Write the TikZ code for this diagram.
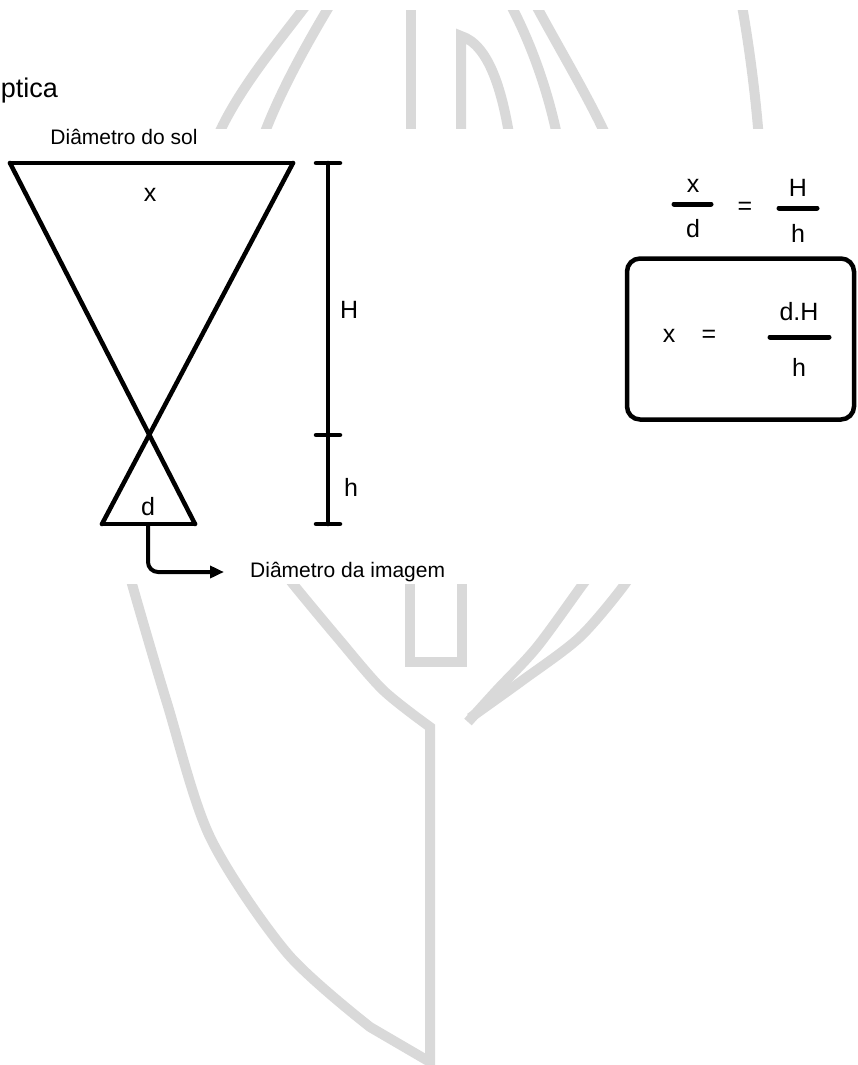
\documentclass[tikz,border=0pt]{standalone}
\usepackage{fontspec}
\setmainfont{Liberation Sans}
\usepackage{tikz}
\usetikzlibrary{positioning, arrows.meta, calc}
\definecolor{wmGray}{RGB}{217,217,217}

\begin{document}
\begin{tikzpicture}[
    x=1pt, y=-1pt,
    label/.style={font=\fontsize{21}{25}\selectfont, inner sep=0pt},
    letter/.style={font=\fontsize{25}{30}\selectfont, inner sep=0pt},
    boldline/.style={line width=4.5pt, line cap=round, line join=round},
    fracbar/.style={line width=5pt, line cap=round},
    watermark/.style={draw=wmGray, line width=10pt},
    arrow/.style={-{Triangle[length=14pt, width=12pt]}, line width=4pt, rounded corners=10pt}
]
\useasboundingbox (0,0) rectangle (858,1065);

% Watermark, upper band
\begin{scope}
\clip (0,11) rectangle (858,128);
\draw[watermark] (310,0) .. controls (282,38) and (238,88) .. (216,140);
\draw[watermark] (333,0) .. controls (312,35) and (280,90) .. (262,140);
\draw[watermark] (411,0) -- (411,140);
\draw[watermark] (461,140) -- (461,36) .. controls (490,45) and (503,95) .. (510,140);
\draw[watermark] (508,0) .. controls (530,40) and (548,90) .. (558,140);
\draw[watermark] (533,0) .. controls (560,50) and (590,100) .. (608,140);
\draw[watermark] (741,0) .. controls (750,50) and (756,100) .. (759,140);
\end{scope}

% Watermark, lower band
\begin{scope}
\clip (0,584) rectangle (858,1065);
\draw[watermark] plot[smooth] coordinates {(128,565) (132,584) (167,703) (210,837) (287,953) (370,1027)} -- (430,1062);
\draw[watermark] plot[smooth] coordinates {(280,566) (293,584) (337,637) (383,690) (430,727)} -- (430,1075);
\draw[watermark] (410,570) -- (410,662) -- (462,662) -- (462,570);
\draw[watermark] plot[smooth] coordinates {(597,566) (583,584) (537,647) (497,690) (468,722)};
\draw[watermark] plot[smooth] coordinates {(632,566) (625,584) (580,637) (523,680) (470,718)};
\end{scope}

% Title
\node[font=\fontsize{27}{32}\selectfont, anchor=base east, inner sep=0pt] (title) at (58,97) {Óptica};

% Sun and image cones
\coordinate (sun_l) at (10,163);
\coordinate (sun_r) at (293,163);
\coordinate (img_l) at (102,524);
\coordinate (img_r) at (195,524);
\draw[boldline] (sun_l) -- (sun_r);
\draw[boldline] (sun_l) -- (img_r);
\draw[boldline] (sun_r) -- (img_l);
\draw[boldline] (img_l) -- (img_r);

\node[label] (sun_lbl) at (124,137) {Diâmetro do sol};
\node[letter] (sun_x) at (150,195) {x};
\node[letter] (img_d) at (148,507) {d};

% Heights
\coordinate (dim_top) at (328,163);
\coordinate (dim_mid) at (328,435);
\coordinate (dim_bot) at (328,524);
\draw[boldline] (dim_top) -- (dim_bot);
\foreach \p in {dim_top, dim_mid, dim_bot}
    \draw[boldline] ([xshift=-12pt]\p) -- ([xshift=12pt]\p);
\node[letter, anchor=west] (dim_H) at (340,310) {H};
\node[letter, anchor=west] (dim_h) at (344,487) {h};

% Image label
\coordinate (img_mid) at (148,526);
\node[label, anchor=west] (img_lbl) at (250,572) {Diâmetro da imagem};
\draw[arrow] (img_mid) |- ([xshift=-26pt]img_lbl.west);

% Proportion
\node[letter] (frac_x) at (693,186) {x};
\node[letter] (frac_d) at (693,229) {d};
\draw[fracbar] (674,204) -- (711,204);
\node[letter] (frac_eq) at (745,208) {=};
\node[letter] (frac_H) at (798,188) {H};
\node[letter] (frac_h) at (798,233) {h};
\draw[fracbar] (779,208) -- (817,208);

% Result
\node[draw, rounded corners=13pt, line width=4.5pt, minimum width=227pt, minimum height=161pt] (result_box) at (740.5,339) {};
\node[letter] (res_x) at (669,336) {x};
\node[letter] (res_eq) at (709,336) {=};
\node[letter] (res_dH) at (799,312) {d.H};
\draw[fracbar] (770,337) -- (829,337);
\node[letter] (res_h) at (799,367) {h};

\end{tikzpicture}
\end{document}
